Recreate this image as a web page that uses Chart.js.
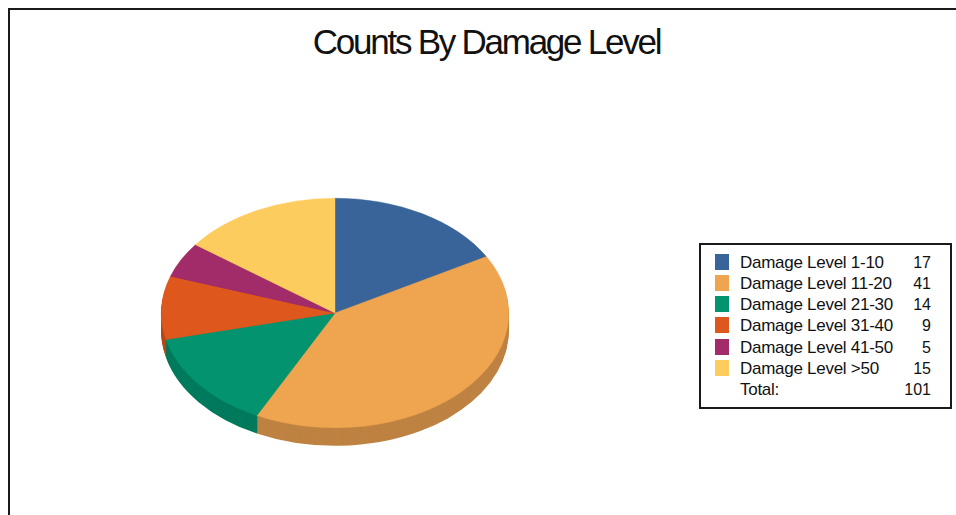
<!DOCTYPE html>
<html>
<head>
<meta charset="utf-8">
<title>Counts By Damage Level</title>
<script src="https://cdn.jsdelivr.net/npm/chart.js@4"></script>
<style>
    html, body { margin: 0; padding: 0; background: #fff; overflow: hidden; }
    body { width: 956px; height: 515px; position: relative; font-family: "Liberation Sans", Arial, sans-serif; color: #111; }
    #frame { position: absolute; left: 8px; top: 8px; width: 960px; height: 520px; border-left: 2px solid #1a1a1a; border-top: 2px solid #1a1a1a; }
    #title { position: absolute; left: 214px; width: 545px; top: 21px; text-align: center; font-size: 35px; letter-spacing: -2.25px; line-height: 42px; white-space: nowrap; }
    #chart { position: absolute; left: 0; top: 0; }
    #legend { position: absolute; left: 699px; top: 243px; width: 249px; height: 162px; border: 2px solid #1a1a1a; background: #fff; }
    .row { position: absolute; left: 0; width: 100%; height: 21px; line-height: 21px; font-size: 17px; letter-spacing: -0.27px; white-space: nowrap; }
    .swatch { position: absolute; left: 14px; top: 2px; width: 14px; height: 16px; }
    .name { position: absolute; left: 39px; top: 0; }
    .count { position: absolute; right: 19px; top: 0; letter-spacing: 0; font-size: 16px; }
</style>
</head>
<body>
<div id="frame"></div>
<div id="title">Counts By Damage Level</div>
<canvas id="chart" width="956" height="515"></canvas>
<div id="legend"></div>

<script>
/* ===== data ===== */
const categories = [
    "Damage Level 1-10", "Damage Level 11-20", "Damage Level 21-30",
    "Damage Level 31-40", "Damage Level 41-50", "Damage Level >50"
];
const counts = [17, 41, 14, 9, 5, 15];
const totalLabel = "Total:";
const totalValue = 101;

const topColors = ["#386499", "#EFA44F", "#03946F", "#DE581E", "#A22B6A", "#FDCC5F"];
const sideColors = ["#2E5380", "#BE8242", "#007A5C", "#B54818", "#842357", "#CFA64D"];

/* ===== squash the pie into an ellipse and draw the rim under it ===== */
const tilt = 0.661;
const depth = 18;

const tiltedPie = {
    id: "tiltedPie",
    beforeDatasetsDraw(chart){
        const ctx = chart.ctx;
        const arcs = chart.getDatasetMeta(0).data;
        const cx = arcs[0].x;
        const cy = arcs[0].y;

        ctx.save();
        ctx.translate(cx, cy);
        ctx.scale(1, tilt);
        ctx.translate(-cx, -cy);

        // rim: same wedges pushed down, darker
        for(let d = depth; d > 0; d--){
            arcs.forEach((arc, i) => {
                ctx.fillStyle = sideColors[i];
                ctx.beginPath();
                ctx.moveTo(arc.x, arc.y + d / tilt);
                ctx.arc(arc.x, arc.y + d / tilt, arc.outerRadius, arc.startAngle, arc.endAngle);
                ctx.closePath();
                ctx.fill();
            });
        }
    },
    afterDatasetsDraw(chart){
        chart.ctx.restore();
    }
};

new Chart(document.getElementById("chart"), {
    type: "pie",
    data: {
        labels: categories,
        datasets: [{
            data: counts,
            backgroundColor: topColors,
            borderColor: topColors,
            borderWidth: 0.5,
            clip: false
        }]
    },
    options: {
        responsive: false,
        animation: false,
        layout: {
            padding: { left: 161, right: 447, top: 139, bottom: 28 }
        },
        plugins: {
            legend: { display: false },
            tooltip: { enabled: false }
        }
    },
    plugins: [tiltedPie]
});

/* ===== legend box ===== */
const legend = document.getElementById("legend");

function addRow(index, name, value, color){
    const row = document.createElement("div");
    row.className = "row";
    row.style.top = (6.5 + index * 21.3) + "px";
    row.innerHTML = (color ? `<span class="swatch" style="background:${color}"></span>` : "")
        + `<span class="name"></span><span class="count">${value}</span>`;
    row.querySelector(".name").textContent = name;
    legend.appendChild(row);
}

categories.forEach((name, i) => addRow(i, name, counts[i], topColors[i]));
addRow(categories.length, totalLabel, totalValue, null);
</script>
</body>
</html>
